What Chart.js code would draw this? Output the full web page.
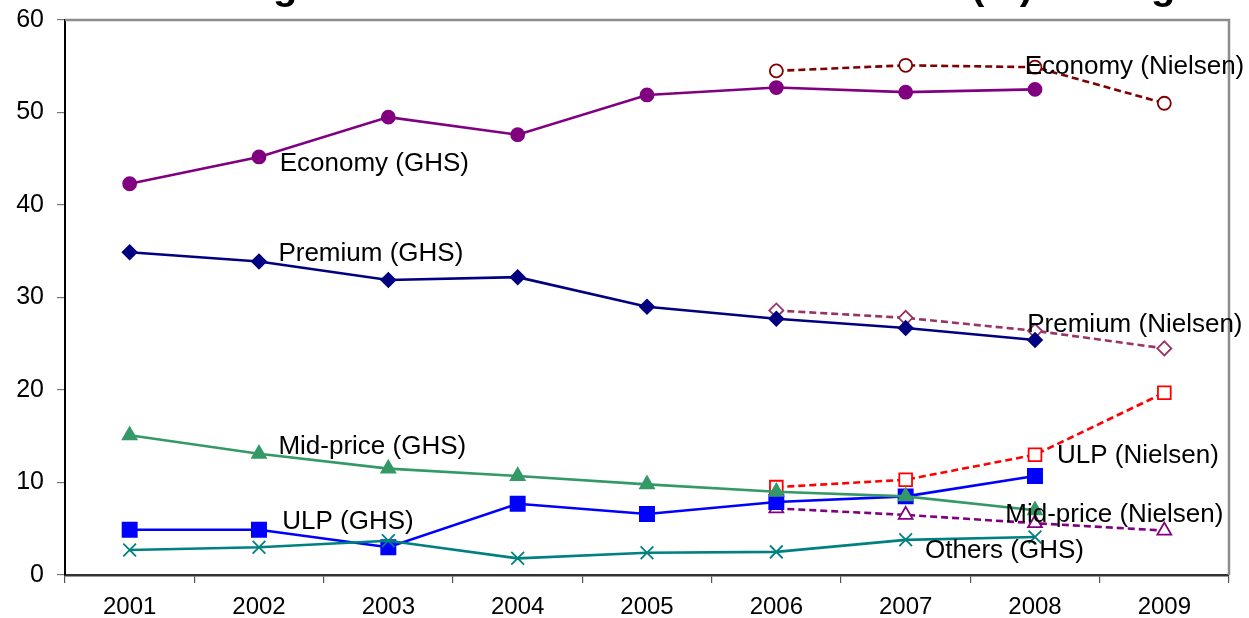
<!DOCTYPE html>
<html>
<head>
<meta charset="utf-8">
<script src="https://cdn.jsdelivr.net/npm/chart.js@4/dist/chart.umd.min.js"></script>
<style>
  html, body { margin: 0; padding: 0; background: #ffffff; }
  #wrap { width: 1249px; height: 618px; }
</style>
</head>
<body>
<div id="wrap"><canvas id="c" width="1249" height="618"></canvas></div>
<script>
// Years on the category axis
const years = ['2001', '2002', '2003', '2004', '2005', '2006', '2007', '2008', '2009'];

// Segment shares (%), General Household Survey
const economyGHS  = [42.3, 45.2, 49.5, 47.6, 51.9, 52.7, 52.2, 52.5, null];
const premiumGHS  = [34.9, 33.9, 31.9, 32.2, 29.0, 27.7, 26.7, 25.4, null];
const midpriceGHS = [15.1, 13.1, 11.5, 10.7, 9.8, 9.0, 8.5, 7.0, null];
const ulpGHS      = [4.9, 4.9, 3.0, 7.7, 6.6, 7.9, 8.5, 10.7, null];
const othersGHS   = [2.7, 3.0, 3.7, 1.8, 2.4, 2.5, 3.8, 4.1, null];

// Segment shares (%), Nielsen
const economyNielsen  = [null, null, null, null, null, 54.5, 55.1, 54.9, 51.0];
const premiumNielsen  = [null, null, null, null, null, 28.6, 27.8, 26.4, 24.5];
const midpriceNielsen = [null, null, null, null, null, 7.2, 6.5, 5.6, 4.8];
const ulpNielsen      = [null, null, null, null, null, 9.5, 10.3, 13.0, 19.7];

// Value axis ticks
const yTicks = [0, 10, 20, 30, 40, 50, 60];

// Series names written beside the lines (anchor: category index, value)
const seriesLabels = [
  { text: 'Economy (GHS)',        at: 1.16, value: 44.5 },
  { text: 'Premium (GHS)',        at: 1.15, value: 34.7 },
  { text: 'Mid-price (GHS)',      at: 1.15, value: 13.9 },
  { text: 'ULP (GHS)',            at: 1.18, value: 5.7 },
  { text: 'Economy (Nielsen)',    at: 6.92, value: 54.9 },
  { text: 'Premium (Nielsen)',    at: 6.94, value: 27.0 },
  { text: 'ULP (Nielsen)',        at: 7.17, value: 12.9 },
  { text: 'Mid-price (Nielsen)',  at: 6.77, value: 6.5 },
  { text: 'Others (GHS)',         at: 6.15, value: 2.6 }
];

const chartTitle = 'Segment shares of the tobacco market (%) among smokers';

const FONT = '"Liberation Sans", Arial, sans-serif';

function solid(label, data, color, style, radius) {
  return {
    label, data,
    borderColor: color, backgroundColor: color,
    borderWidth: 2.6,
    pointStyle: style, pointRadius: radius,
    pointBackgroundColor: color, pointBorderColor: color, pointBorderWidth: 1.8,
    spanGaps: false, tension: 0
  };
}
function dashed(label, data, color, style, radius) {
  return {
    label, data,
    borderColor: color, backgroundColor: '#ffffff',
    borderWidth: 2.6, borderDash: [7, 4],
    pointStyle: style, pointRadius: radius,
    pointBackgroundColor: '#ffffff', pointBorderColor: color, pointBorderWidth: 1.8,
    spanGaps: false, tension: 0
  };
}

// Title (runs off the top edge) and frame lines on the top and right of the plot
const framePlugin = {
  id: 'frame',
  beforeDraw(chart) {
    const ctx = chart.ctx;
    ctx.save();
    ctx.fillStyle = '#000000';
    ctx.font = 'bold 40px ' + FONT;
    ctx.textAlign = 'left';
    ctx.textBaseline = 'alphabetic';
    ctx.fillText(chartTitle, 224, -1);
    ctx.restore();
  },
  afterDatasetsDraw(chart) {
    const { ctx, chartArea: a } = chart;
    ctx.save();
    ctx.strokeStyle = '#8c8c8c';
    ctx.lineWidth = 2.5;
    ctx.beginPath();
    ctx.moveTo(a.left, a.top);
    ctx.lineTo(a.right, a.top);
    ctx.lineTo(a.right, a.bottom);
    ctx.stroke();
    ctx.restore();
  }
};

// Series names placed through the chart's scales
const labelPlugin = {
  id: 'seriesLabels',
  afterDatasetsDraw(chart) {
    const ctx = chart.ctx;
    const xs = chart.scales.x, ys = chart.scales.y;
    ctx.save();
    ctx.fillStyle = '#000000';
    ctx.font = '26px ' + FONT;
    ctx.textAlign = 'left';
    ctx.textBaseline = 'middle';
    seriesLabels.forEach(l => {
      ctx.fillText(l.text, xs.getPixelForValue(l.at), ys.getPixelForValue(l.value));
    });
    ctx.restore();
  }
};

new Chart(document.getElementById('c'), {
  type: 'line',
  data: {
    labels: years,
    datasets: [
      solid('Others (GHS)', othersGHS, '#008080', 'crossRot', 9),
      solid('Mid-price (GHS)', midpriceGHS, '#339966', 'triangle', 8),
      solid('ULP (GHS)', ulpGHS, '#0000ff', 'rect', 10),
      solid('Premium (GHS)', premiumGHS, '#000080', 'rectRot', 7),
      solid('Economy (GHS)', economyGHS, '#800080', 'circle', 6.5),
      dashed('Mid-price (Nielsen)', midpriceNielsen, '#800080', 'triangle', 8),
      dashed('ULP (Nielsen)', ulpNielsen, '#ff0000', 'rect', 9),
      dashed('Premium (Nielsen)', premiumNielsen, '#993366', 'rectRot', 7),
      dashed('Economy (Nielsen)', economyNielsen, '#800000', 'circle', 6.5)
    ]
  },
  options: {
    responsive: false,
    animation: false,
    devicePixelRatio: 1,
    layout: { padding: { top: 20, right: 20, left: 0, bottom: 0 } },
    plugins: { legend: { display: false }, tooltip: { enabled: false }, title: { display: false } },
    scales: {
      x: {
        type: 'category',
        offset: true,
        grid: { offset: true, drawOnChartArea: false, drawTicks: true, tickLength: 8, color: '#555555', lineWidth: 1.2 },
        border: { display: true, color: '#333333', width: 2.5 },
        ticks: { color: '#000000', font: { family: FONT, size: 24 }, padding: 10, maxRotation: 0, autoSkip: false },
        afterFit(scale) { scale.height = 43; scale.paddingLeft = 0; scale.paddingRight = 0; }
      },
      y: {
        min: 0, max: 60,
        afterBuildTicks(scale) { scale.ticks = yTicks.map(v => ({ value: v })); },
        grid: { drawOnChartArea: false, drawTicks: true, tickLength: 8, color: '#777777', lineWidth: 1.2 },
        border: { display: true, color: '#000000', width: 2 },
        ticks: { color: '#000000', font: { family: FONT, size: 25 }, padding: 13 },
        afterFit(scale) { scale.width = 65; scale.paddingTop = 0; scale.paddingBottom = 0; }
      }
    }
  },
  plugins: [framePlugin, labelPlugin]
});
</script>
</body>
</html>
